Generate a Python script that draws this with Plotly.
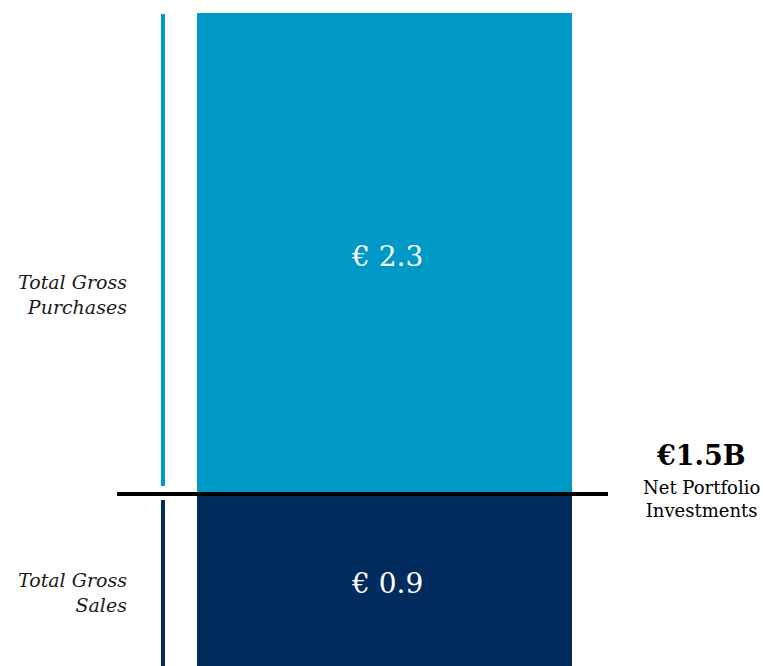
import plotly.graph_objects as go

categories = ["Total Gross Purchases", "Total Gross Sales"]
values = [2.3, -0.9]
value_labels = ["€ 2.3", "€ 0.9"]
colors = ["#0099C6", "#002B5C"]
net_value_label = "€1.5B"
net_caption = "Net Portfolio<br>Investments"
side_labels = ["Total Gross<br>Purchases", "Total Gross<br>Sales"]

FONT = "DejaVu Serif"

fig = go.Figure()
for cat, v, col in zip(categories, values, colors):
    fig.add_trace(go.Bar(
        x=[0], y=[v], width=[1], name=cat,
        marker=dict(color=col, line=dict(width=0)),
        hoverinfo="skip",
    ))

# value labels inside bars
for v, lab, ys in zip(values, value_labels, [-3, 5]):
    fig.add_annotation(x=0.007, y=v / 2, xref="x", yref="y", text=lab, yshift=ys,
                       showarrow=False, xanchor="center", yanchor="middle",
                       font=dict(family=FONT, size=28, color="white"))

xl, xr = -1.0253, 1.0093
ytop, ybot = 2.362, -0.8225

# zero line
fig.add_shape(type="line", x0=-0.713, x1=0.596, y0=0, y1=0,
              xref="x", yref="y", line=dict(color="black", width=4))
# side bracket lines
fig.add_shape(type="line", x0=-0.5907, x1=-0.5907, y0=values[0] - 0.005, y1=0.038,
              xref="x", yref="y", line=dict(color=colors[0], width=4))
fig.add_shape(type="line", x0=-0.5907, x1=-0.5907, y0=-0.029, y1=values[1],
              xref="x", yref="y", line=dict(color=colors[1], width=4))

fig.add_annotation(x=-0.6813, y=0.955, xref="x", yref="y", text="<i>" + side_labels[0] + "</i>",
                   showarrow=False, xanchor="right", yanchor="middle", align="right",
                   font=dict(family=FONT, size=19, color="#1a1a1a"))
fig.add_annotation(x=-0.6813, y=-0.469, xref="x", yref="y", text="<i>" + side_labels[1] + "</i>",
                   showarrow=False, xanchor="right", yanchor="middle", align="right",
                   font=dict(family=FONT, size=19, color="#1a1a1a"))

fig.add_annotation(x=0.845, y=0.185, xref="x", yref="y", text="<b>" + net_value_label + "</b>",
                   showarrow=False, xanchor="center", yanchor="middle",
                   font=dict(family=FONT, size=27, color="black"))
fig.add_annotation(x=0.845, y=-0.026, xref="x", yref="y", text=net_caption,
                   showarrow=False, xanchor="center", yanchor="middle", align="center",
                   font=dict(family=FONT, size=18, color="black"))

fig.update_layout(
    width=763, height=666,
    margin=dict(l=0, r=0, t=0, b=0),
    paper_bgcolor="white", plot_bgcolor="white",
    barmode="relative", showlegend=False,
    xaxis=dict(range=[xl, xr], visible=False, fixedrange=True),
    yaxis=dict(range=[ybot, ytop], visible=False, fixedrange=True),
)

fig.write_html("out.html", config={"displayModeBar": False},
               post_script="document.body.style.margin='0';document.body.style.overflow='hidden';")
